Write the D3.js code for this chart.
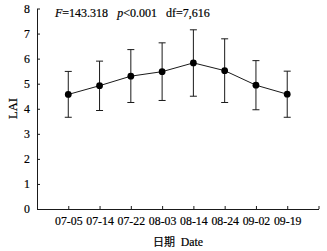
<!DOCTYPE html>
<html><head><meta charset="utf-8">
<script src="https://cdn.jsdelivr.net/npm/d3@7"></script>
<style>body{margin:0;background:#fff}svg{display:block}</style>
</head><body>
<script>
const categories = ["07-05","07-14","07-22","08-03","08-14","08-24","09-02","09-19"];
const lai = [4.57, 4.92, 5.30, 5.48, 5.83, 5.52, 4.94, 4.58];
const upper = [5.49, 5.90, 6.36, 6.63, 7.15, 6.79, 5.92, 5.50];
const lower = [3.66, 3.93, 4.25, 4.33, 4.50, 4.25, 3.96, 3.66];
const yTicks = [0,1,2,3,4,5,6,7,8];

const W = 327, H = 251;
const m = {l:37, r:8.5, t:8.5, b:42};
const svg = d3.select("body").append("svg").attr("width",W).attr("height",H);
const x = d3.scaleLinear().domain([0, categories.length+1]).range([m.l, W-m.r]);
const y = d3.scaleLinear().domain([0,8]).range([H-m.b, m.t]);
const col = "#1a1a1a";
const font = "'Liberation Serif','Times New Roman',serif";

const g = svg.append("g");
const ya = g.append("g").attr("transform",`translate(${m.l},0)`)
  .call(d3.axisLeft(y).tickValues(yTicks).tickSizeInner(-3).tickSizeOuter(0).tickPadding(7));
const xa = g.append("g").attr("transform",`translate(0,${y(0)})`)
  .call(d3.axisBottom(x).tickValues(d3.range(1, categories.length+2)).tickSizeInner(-3).tickSizeOuter(0).tickPadding(8)
    .tickFormat(d => categories[d-1] || ""));
[ya, xa].forEach(a => {
  a.selectAll("path,line").attr("stroke", col).attr("stroke-width", 1);
  a.selectAll("text").attr("font-family", font).attr("font-size", 11.8).attr("fill","#000")
    .attr("stroke","#000").attr("stroke-width",0.2);
});

const xi = (d,i) => x(i+1);
const eb = g.append("g").attr("stroke", col).attr("stroke-width",1);
eb.selectAll(".v").data(lai).enter().append("line")
  .attr("x1",xi).attr("x2",xi).attr("y1",(d,i)=>y(upper[i])).attr("y2",(d,i)=>y(lower[i]));
eb.selectAll(".t").data(lai).enter().append("line")
  .attr("x1",(d,i)=>x(i+1)-3.5).attr("x2",(d,i)=>x(i+1)+3.5).attr("y1",(d,i)=>y(upper[i])).attr("y2",(d,i)=>y(upper[i]));
eb.selectAll(".b").data(lai).enter().append("line")
  .attr("x1",(d,i)=>x(i+1)-3.5).attr("x2",(d,i)=>x(i+1)+3.5).attr("y1",(d,i)=>y(lower[i])).attr("y2",(d,i)=>y(lower[i]));
g.append("path").datum(lai)
  .attr("d", d3.line().x(xi).y(d=>y(d)))
  .attr("fill","none").attr("stroke",col).attr("stroke-width",1);
g.selectAll("circle").data(lai).enter().append("circle")
  .attr("cx",xi).attr("cy",d=>y(d)).attr("r",3.4).attr("fill","#000");

const ann = svg.append("text").attr("x",55).attr("y",16.5)
  .attr("font-family",font).attr("font-size",12).attr("fill","#000").attr("xml:space","preserve")
  .attr("stroke","#000").attr("stroke-width",0.2);
ann.append("tspan").attr("font-style","italic").text("F");
ann.append("tspan").text("=143.318   ");
ann.append("tspan").attr("font-style","italic").text("p");
ann.append("tspan").text("<0.001   df=7,616");

svg.append("text").attr("transform",`translate(16.5,108.5) rotate(-90)`)
  .attr("text-anchor","middle").attr("font-family",font).attr("font-size",12.5)
  .attr("stroke","#000").attr("stroke-width",0.2).text("LAI");
const xl = svg.append("text").attr("x",178).attr("y",246).attr("text-anchor","middle")
  .attr("font-family",font).attr("font-size",11.8).attr("xml:space","preserve")
  .attr("stroke","#000").attr("stroke-width",0.2);
xl.append("tspan").attr("font-family","'Noto Sans CJK SC'").attr("font-size",11).text("日期");
xl.append("tspan").text("  Date");
</script>
</body></html>
